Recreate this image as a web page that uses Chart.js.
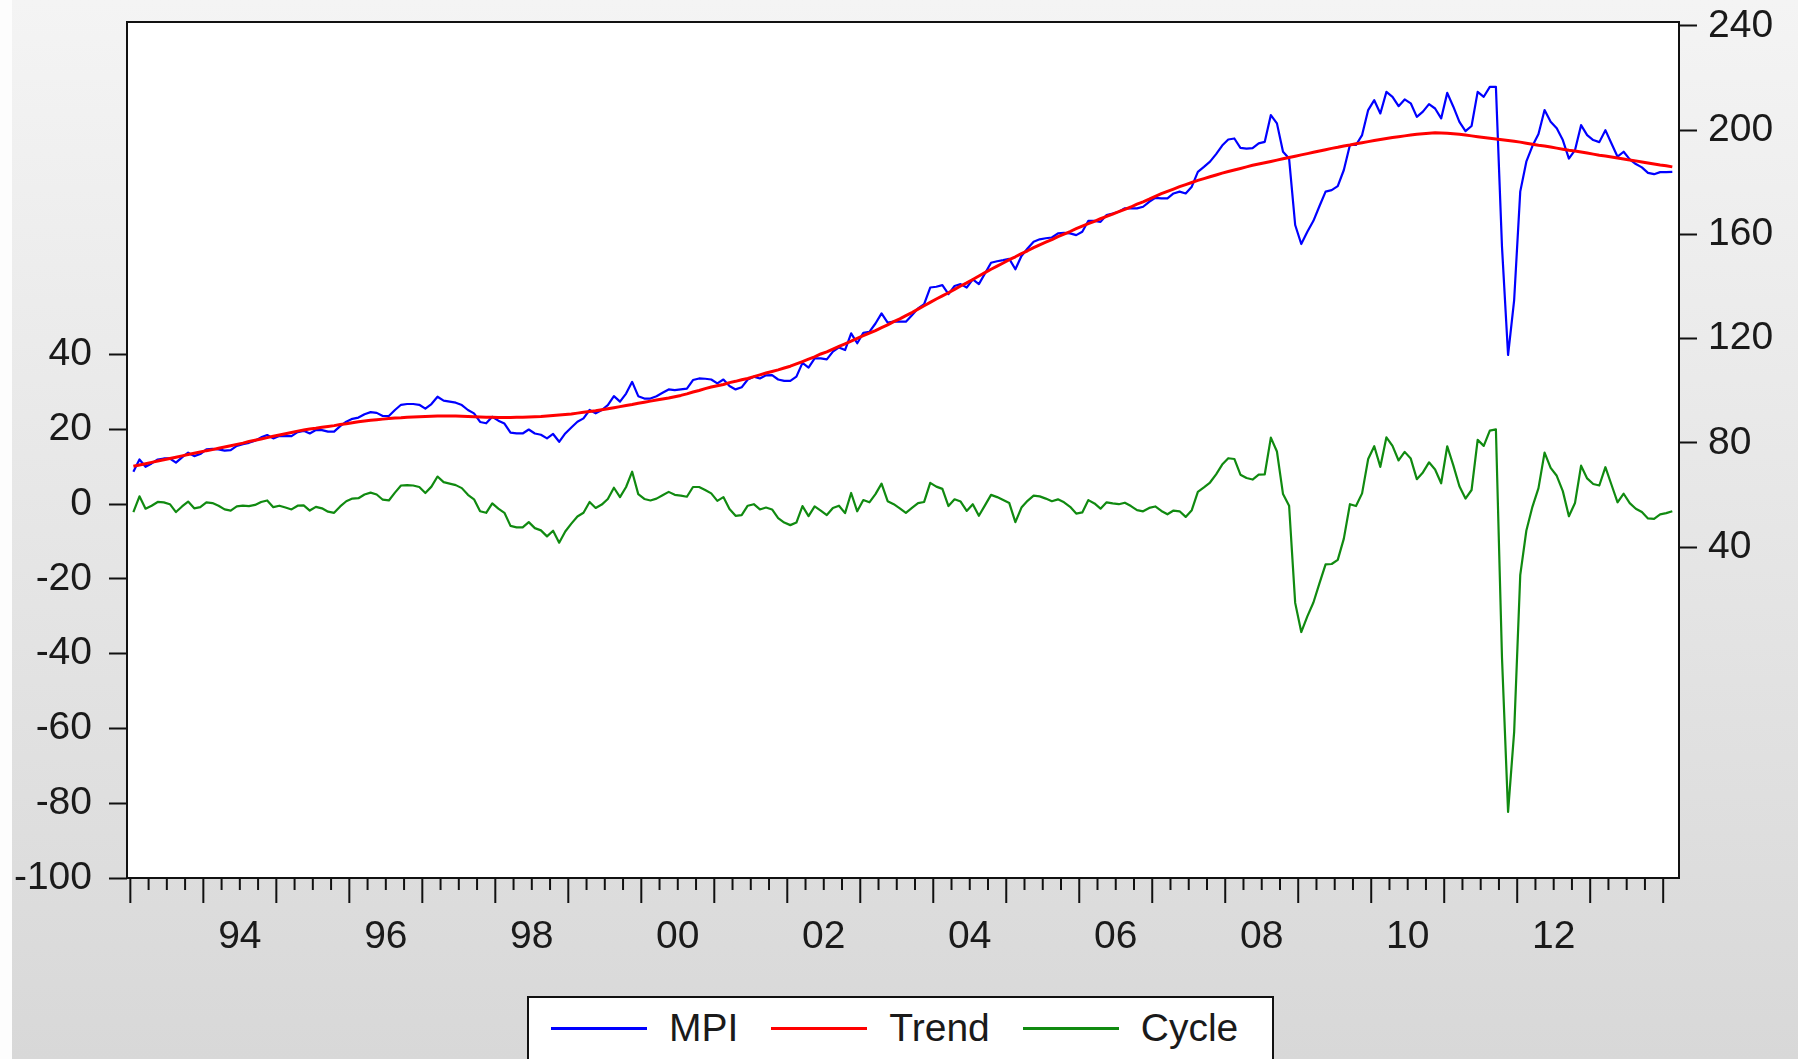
<!DOCTYPE html>
<html>
<head>
<meta charset="utf-8">
<title>MPI, Trend, Cycle</title>
<script src="https://cdn.jsdelivr.net/npm/chart.js@4.4.0/dist/chart.umd.min.js"></script>
<style>
    html, body { margin: 0; padding: 0; }
    body {
        width: 1798px;
        height: 1059px;
        overflow: hidden;
        position: relative;
        background: linear-gradient(to bottom, #f4f4f4 0%, #e6e6e6 50%, #d8d8d8 100%);
        font-family: "Liberation Sans", Arial, sans-serif;
    }
    #strip { position: absolute; left: 0; top: 0; width: 12px; height: 1059px; background: #fdfdfd; }
    #chart { position: absolute; left: 0; top: 0; }
    #legend {
        position: absolute;
        left: 527px;
        top: 996px;
        width: 747px;
        height: 100px;
        box-sizing: border-box;
        background: #fff;
        border: 2px solid #111;
        padding: 6px 0 0 22px;
        display: flex;
        align-items: flex-start;
    }
    .item { display: flex; align-items: center; height: 48px; margin-right: 33px; }
    .swatch { width: 96px; height: 3px; margin-right: 22px; }
    .name { font-size: 39px; line-height: 48px; color: #1a1a1a; }
</style>
</head>
<body>
<div id="strip"></div>
<canvas id="chart" width="1798" height="1059"></canvas>
<div id="legend"></div>

<script>
// monthly observations, first one is January 1993
const startYear = 1993;

// MPI (right axis), one row per year
const mpi = [
    68.9, 73.6, 70.8, 72.1, 73.6, 74.0, 74.0, 72.4, 74.4, 76.2, 74.9, 75.7,
    77.5, 77.7, 77.5, 77.0, 77.2, 78.8, 79.5, 80.0, 80.8, 82.1, 83.0, 81.7,
    82.6, 82.6, 82.6, 84.1, 84.6, 83.6, 84.9, 84.9, 84.3, 84.3, 86.4, 88.1,
    89.2, 89.7, 91.0, 91.8, 91.5, 90.3, 90.3, 92.6, 94.6, 94.9, 94.9, 94.6,
    93.1, 94.9, 97.7, 96.2, 95.8, 95.4, 94.5, 92.6, 91.3, 88.0, 87.5, 90.0,
    88.5, 87.4, 83.9, 83.6, 83.6, 85.1, 83.6, 83.1, 81.7, 83.4, 80.4, 83.6,
    85.9, 88.1, 89.4, 92.6, 91.3, 92.6, 94.5, 97.9, 95.8, 98.9, 103.4, 97.9,
    97.0, 97.0, 97.9, 99.2, 100.5, 100.2, 100.5, 100.8, 104.1, 104.7, 104.6, 104.3,
    102.8, 104.3, 101.8, 100.5, 101.3, 104.3, 105.4, 104.7, 105.9, 106.0, 104.3, 103.8,
    103.8, 105.4, 110.7, 108.9, 112.4, 112.4, 112.0, 115.0, 116.6, 115.6, 122.0, 118.2,
    122.2, 122.6, 125.8, 129.7, 126.1, 126.5, 126.5, 126.5, 129.0, 131.6, 133.2, 139.6,
    139.9, 140.5, 137.1, 140.2, 140.9, 139.6, 142.7, 140.9, 145.0, 149.1, 149.7, 150.1,
    150.6, 146.6, 151.7, 154.6, 157.2, 158.1, 158.5, 158.8, 160.4, 160.6, 160.4, 159.7,
    161.0, 165.2, 165.2, 164.8, 167.4, 168.0, 168.7, 170.0, 170.0, 170.0, 170.6, 172.5,
    174.0, 173.8, 173.8, 175.7, 176.4, 175.7, 178.3, 184.0, 185.9, 187.9, 190.8, 194.1,
    196.4, 196.8, 193.2, 192.9, 193.1, 194.9, 195.5, 205.8, 202.6, 191.7, 189.1, 163.6,
    156.3, 161.0, 165.2, 170.9, 176.4, 177.0, 178.5, 184.7, 194.3, 194.3, 198.1, 207.7,
    211.5, 206.4, 214.7, 212.8, 209.2, 211.8, 210.3, 205.1, 207.1, 210.0, 208.3, 204.5,
    214.3, 209.0, 203.2, 199.6, 201.6, 214.7, 212.8, 216.6, 216.6, 155.2, 113.7, 134.8,
    176.4, 187.9, 193.9, 198.5, 207.7, 203.2, 200.7, 196.2, 189.1, 192.3, 201.9, 198.1,
    196.2, 195.4, 200.0, 194.9, 189.8, 191.7, 188.8, 187.0, 185.7, 183.6, 183.1, 183.9,
    183.9, 184.0
];

// HP trend (right axis)
const trend = [
    71.0, 71.5, 72.0, 72.5, 73.0, 73.5, 74.0, 74.5, 75.0, 75.5, 76.0, 76.5,
    77.0, 77.4, 77.9, 78.4, 78.9, 79.4, 79.9, 80.5, 81.0, 81.5, 82.0, 82.5,
    83.0, 83.5, 84.0, 84.5, 84.9, 85.3, 85.6, 86.0, 86.3, 86.6, 87.0, 87.3,
    87.7, 88.1, 88.4, 88.7, 88.9, 89.1, 89.3, 89.5, 89.6, 89.8, 89.9, 90.0,
    90.1, 90.2, 90.3, 90.3, 90.3, 90.3, 90.2, 90.1, 90.0, 89.9, 89.8, 89.8,
    89.7, 89.7, 89.7, 89.8, 89.8, 89.9, 90.0, 90.1, 90.3, 90.5, 90.7, 90.9,
    91.1, 91.4, 91.7, 92.0, 92.3, 92.7, 93.1, 93.5, 93.9, 94.3, 94.7, 95.2,
    95.6, 96.0, 96.4, 96.8, 97.2, 97.7, 98.2, 98.8, 99.5, 100.1, 100.8, 101.4,
    101.9, 102.4, 103.1, 103.6, 104.2, 104.7, 105.4, 106.1, 106.8, 107.4, 108.0, 108.7,
    109.4, 110.3, 111.2, 112.1, 113.0, 114.1, 114.9, 116.0, 117.0, 118.0, 119.0, 120.1,
    121.1, 122.1, 123.1, 124.2, 125.3, 126.5, 127.6, 128.8, 130.0, 131.3, 132.6, 133.9,
    135.2, 136.4, 137.6, 138.9, 140.2, 141.4, 142.7, 144.0, 145.3, 146.6, 147.8, 149.0,
    150.3, 151.4, 152.6, 153.7, 154.9, 156.0, 157.0, 158.0, 159.1, 160.1, 161.1, 162.2,
    163.2, 164.1, 165.0, 166.0, 166.9, 167.8, 168.7, 169.6, 170.5, 171.6, 172.5, 173.5,
    174.6, 175.6, 176.5, 177.4, 178.3, 179.1, 179.9, 180.7, 181.4, 182.1, 182.8, 183.5,
    184.1, 184.7, 185.3, 185.9, 186.5, 187.0, 187.5, 188.0, 188.5, 189.0, 189.5, 190.0,
    190.5, 191.0, 191.5, 192.0, 192.5, 193.0, 193.4, 193.9, 194.3, 194.8, 195.2, 195.6,
    196.0, 196.4, 196.8, 197.2, 197.5, 197.8, 198.1, 198.4, 198.6, 198.8, 199.0, 198.9,
    198.8, 198.6, 198.4, 198.1, 197.8, 197.5, 197.2, 196.9, 196.6, 196.3, 196.0, 195.7,
    195.4, 195.0, 194.6, 194.2, 193.9, 193.5, 193.1, 192.7, 192.3, 192.0, 191.6, 191.2,
    190.8, 190.4, 190.1, 189.7, 189.3, 188.9, 188.5, 188.2, 187.8, 187.4, 187.0, 186.6,
    186.3, 185.9
];

// cycle (left axis)
const cycle = [
    -2.1, 2.1, -1.2, -0.4, 0.6, 0.5, 0.0, -2.1, -0.6, 0.7, -1.1, -0.8,
    0.5, 0.3, -0.4, -1.4, -1.7, -0.6, -0.4, -0.5, -0.2, 0.6, 1.0, -0.8,
    -0.4, -0.9, -1.4, -0.4, -0.3, -1.7, -0.7, -1.1, -2.0, -2.3, -0.6, 0.8,
    1.5, 1.6, 2.6, 3.1, 2.6, 1.2, 1.0, 3.1, 5.0, 5.1, 5.0, 4.6,
    3.0, 4.7, 7.4, 5.9, 5.5, 5.1, 4.3, 2.5, 1.3, -1.9, -2.3, 0.2,
    -1.2, -2.3, -5.8, -6.2, -6.2, -4.8, -6.4, -7.0, -8.6, -7.1, -10.3, -7.3,
    -5.2, -3.3, -2.3, 0.6, -1.0, -0.1, 1.4, 4.4, 1.9, 4.6, 8.7, 2.7,
    1.4, 1.0, 1.5, 2.4, 3.3, 2.5, 2.3, 2.0, 4.6, 4.6, 3.8, 2.9,
    0.9, 1.9, -1.3, -3.1, -2.9, -0.4, 0.0, -1.4, -0.9, -1.4, -3.7, -4.9,
    -5.6, -4.9, -0.5, -3.2, -0.6, -1.7, -2.9, -1.0, -0.4, -2.4, 3.0, -1.9,
    1.1, 0.5, 2.7, 5.5, 0.8, 0.0, -1.1, -2.3, -1.0, 0.3, 0.6, 5.7,
    4.7, 4.1, -0.5, 1.3, 0.7, -1.8, 0.0, -3.1, -0.3, 2.5, 1.9, 1.1,
    0.3, -4.8, -0.9, 0.9, 2.3, 2.1, 1.5, 0.8, 1.3, 0.5, -0.7, -2.5,
    -2.2, 1.1, 0.2, -1.2, 0.5, 0.2, 0.0, 0.4, -0.5, -1.6, -1.9, -1.0,
    -0.6, -1.8, -2.7, -1.7, -1.9, -3.4, -1.6, 3.3, 4.5, 5.8, 8.0, 10.6,
    12.3, 12.1, 7.9, 7.0, 6.6, 7.9, 8.0, 17.8, 14.1, 2.7, -0.4, -26.4,
    -34.2, -30.0, -26.3, -21.1, -16.1, -16.0, -14.9, -9.2, 0.0, -0.5, 2.9, 12.1,
    15.5, 10.0, 17.9, 15.6, 11.7, 14.0, 12.2, 6.7, 8.5, 11.2, 9.3, 5.6,
    15.5, 10.4, 4.8, 1.5, 3.8, 17.2, 15.6, 19.7, 20.0, -41.1, -82.3, -60.9,
    -19.0, -7.1, -0.7, 4.3, 13.8, 9.7, 7.6, 3.5, -3.2, 0.3, 10.3, 6.9,
    5.4, 5.0, 9.9, 5.2, 0.5, 2.8, 0.3, -1.2, -2.1, -3.8, -3.9, -2.7,
    -2.4, -1.9
];

// labelled years on the time axis
const yearLabels = [1994, 1996, 1998, 2000, 2002, 2004, 2006, 2008, 2010, 2012];
const leftTicks = [-100, -80, -60, -40, -20, 0, 20, 40];
const rightTicks = [40, 80, 120, 160, 200, 240];

const seriesNames = ['MPI', 'Trend', 'Cycle'];
const seriesColors = ['#0000ff', '#ff0000', '#108a10'];

const tickFont = { family: '"Liberation Sans", Arial, sans-serif', size: 39, lineHeight: 1 };
const textColor = '#1a1a1a';

// white plot area, frame and quarterly ticks (long ones at each January)
const framePlugin = {
    id: 'frame',
    beforeDraw(chart) {
        const { ctx, chartArea: a } = chart;
        ctx.save();
        ctx.fillStyle = '#ffffff';
        ctx.fillRect(a.left, a.top, a.right - a.left, a.bottom - a.top);
        ctx.restore();
    },
    afterDraw(chart) {
        const { ctx, chartArea: a } = chart;
        const x = chart.scales.x;
        ctx.save();
        ctx.strokeStyle = '#111';
        ctx.lineWidth = 2;
        ctx.strokeRect(a.left, a.top, a.right - a.left, a.bottom - a.top);
        for (let q = 0; 3 * q - 0.5 <= x.max; q++) {
            const px = x.getPixelForValue(3 * q - 0.5);
            const len = q % 4 === 0 ? 25 : 12;
            ctx.beginPath();
            ctx.moveTo(px, a.bottom);
            ctx.lineTo(px, a.bottom + len);
            ctx.stroke();
        }
        ctx.restore();
    }
};

// fixed axis sizes so the plot box lands where it should
function fixWidth(w) {
    return scale => {
        scale.width = w;
        scale.paddingTop = 0;
        scale.paddingBottom = 0;
    };
}

function buildLegend() {
    const legend = document.getElementById('legend');
    seriesNames.forEach((name, i) => {
        const item = document.createElement('div');
        item.className = 'item';
        item.innerHTML = `<span class="swatch" style="background:${seriesColors[i]}"></span><span class="name">${name}</span>`;
        legend.appendChild(item);
    });
}

function createChart() {
    const ctx = document.getElementById('chart').getContext('2d');

    new Chart(ctx, {
        type: 'line',
        data: {
            labels: mpi.map((_, i) => i),
            datasets: [
                { label: seriesNames[1], data: trend, yAxisID: 'yR', borderColor: seriesColors[1], borderWidth: 3, order: 0 },
                { label: seriesNames[0], data: mpi, yAxisID: 'yR', borderColor: seriesColors[0], borderWidth: 2.2, order: 1 },
                { label: seriesNames[2], data: cycle, yAxisID: 'yL', borderColor: seriesColors[2], borderWidth: 2.2, order: 2 }
            ]
        },
        options: {
            responsive: false,
            animation: false,
            events: [],
            layout: { padding: { top: 22, left: 0, right: 0, bottom: 0 } },
            elements: {
                point: { radius: 0 },
                line: { tension: 0, borderJoinStyle: 'round', fill: false }
            },
            plugins: {
                legend: { display: false },
                tooltip: { enabled: false }
            },
            scales: {
                x: {
                    type: 'linear',
                    min: -1.05,
                    max: 254.1,
                    afterBuildTicks: scale => {
                        scale.ticks = yearLabels.map(y => ({ value: (y - startYear) * 12 + 5.5 }));
                    },
                    afterFit: scale => {
                        scale.height = 181;
                        scale.paddingLeft = 0;
                        scale.paddingRight = 0;
                    },
                    ticks: {
                        autoSkip: false,
                        maxRotation: 0,
                        font: tickFont,
                        color: textColor,
                        padding: 40,
                        callback: v => String((startYear + Math.floor(v / 12)) % 100).padStart(2, '0')
                    },
                    grid: { display: false, drawTicks: false },
                    border: { display: false }
                },
                yL: {
                    type: 'linear',
                    position: 'left',
                    min: -100,
                    max: 129,
                    afterBuildTicks: scale => { scale.ticks = leftTicks.map(v => ({ value: v })); },
                    afterFit: fixWidth(127),
                    ticks: { font: tickFont, color: textColor, padding: 17 },
                    grid: { drawOnChartArea: false, drawTicks: true, tickLength: 18, tickColor: '#111', tickWidth: 2 },
                    border: { display: false }
                },
                yR: {
                    type: 'linear',
                    position: 'right',
                    min: -87,
                    max: 241.5,
                    afterBuildTicks: scale => { scale.ticks = rightTicks.map(v => ({ value: v })); },
                    afterFit: fixWidth(119),
                    ticks: { font: tickFont, color: textColor, padding: 11 },
                    grid: { drawOnChartArea: false, drawTicks: true, tickLength: 18, tickColor: '#111', tickWidth: 2 },
                    border: { display: false }
                }
            }
        },
        plugins: [framePlugin]
    });
}

function init() {
    buildLegend();
    createChart();
}

document.addEventListener('DOMContentLoaded', init);
</script>
</body>
</html>
